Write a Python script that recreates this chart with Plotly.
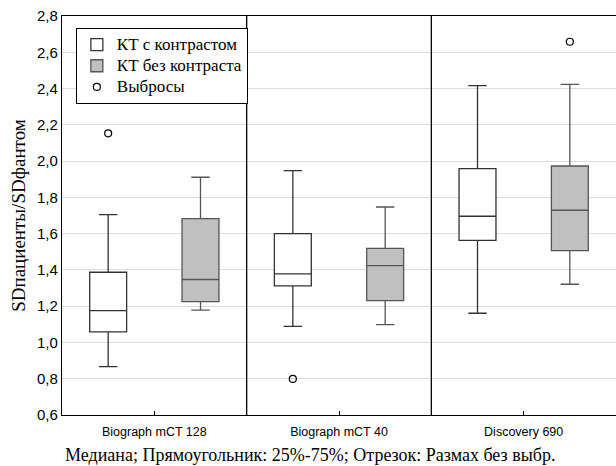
import plotly.graph_objects as go

categories = ["Biograph mCT 128", "Biograph mCT 40", "Discovery 690"]

# КТ с контрастом (white boxes)
c_low = [0.867, 1.089, 1.161]
c_q1 = [1.058, 1.312, 1.563]
c_med = [1.176, 1.378, 1.696]
c_q3 = [1.387, 1.600, 1.958]
c_high = [1.705, 1.947, 2.416]

# КТ без контраста (gray boxes)
n_low = [1.178, 1.098, 1.321]
n_q1 = [1.225, 1.231, 1.506]
n_med = [1.347, 1.424, 1.729]
n_q3 = [1.683, 1.519, 1.973]
n_high = [1.911, 1.747, 2.423]

# outliers
c_out_x = ["Biograph mCT 128", "Biograph mCT 40"]
c_out_y = [2.153, 0.799]
n_out_x = ["Discovery 690"]
n_out_y = [2.658]

serif = "Liberation Serif, Times New Roman, serif"
sans = "Liberation Sans, Arial, sans-serif"


def big(t):
    return "<span style='font-size:17px'>" + t + "</span>"


fig = go.Figure()
fig.add_trace(go.Box(
    name=big("КТ с контрастом"), x=categories, q1=c_q1, median=c_med, q3=c_q3,
    lowerfence=c_low, upperfence=c_high, fillcolor="white",
    line=dict(color="#333333", width=1.3), whiskerwidth=0.5,
    offsetgroup="c", boxpoints=False,
))
fig.add_trace(go.Box(
    name=big("КТ без контраста"), x=categories, q1=n_q1, median=n_med, q3=n_q3,
    lowerfence=n_low, upperfence=n_high, fillcolor="#c0c0c0",
    line=dict(color="#555555", width=1.3), whiskerwidth=0.5,
    offsetgroup="n", boxpoints=False,
))
fig.add_trace(go.Scatter(
    name=big("Выбросы"), x=c_out_x, y=c_out_y, mode="markers", offsetgroup="c",
    marker=dict(symbol="circle-open", size=7, color="black", line=dict(width=1.2)),
))
fig.add_trace(go.Scatter(
    name=big("Выбросы"), x=n_out_x, y=n_out_y, mode="markers", offsetgroup="n",
    marker=dict(symbol="circle-open", size=7, color="black", line=dict(width=1.2)),
    showlegend=False,
))

for xb in [0.5, 1.5]:
    fig.add_shape(type="line", xref="x", yref="paper", x0=xb, x1=xb, y0=0, y1=1,
                  line=dict(color="black", width=1.3), layer="above")

fig.update_layout(
    width=616, height=466,
    margin=dict(l=62, r=0, t=16, b=51),
    plot_bgcolor="white", paper_bgcolor="white",
    boxmode="group", boxgap=0, boxgroupgap=0.6,
    scattermode="group", scattergap=0,
    separators=", ",
    showlegend=True,
    legend=dict(x=0.025, y=0.97, xanchor="left", yanchor="top",
                bgcolor="white", bordercolor="black", borderwidth=1,
                font=dict(family=serif, size=14, color="black"),
                itemwidth=30, tracegroupgap=0),
    annotations=[dict(
        text="Медиана; Прямоугольник: 25%-75%; Отрезок: Размах без выбр.",
        xref="paper", yref="paper", x=0.447, y=0, yshift=-40,
        xanchor="center", yanchor="middle", showarrow=False,
        font=dict(family=serif, size=18, color="black"))],
)
fig.update_xaxes(
    type="category", categoryorder="array", categoryarray=categories,
    showline=True, linecolor="black", linewidth=1.3, mirror=True,
    ticks="inside", ticklen=4, tickcolor="black", ticklabelstandoff=5,
    showgrid=False, tickfont=dict(family=sans, size=12.5, color="black"),
)
fig.update_yaxes(
    range=[0.6, 2.8], dtick=0.2, tick0=0.6, tickformat=".1f",
    showline=True, linecolor="black", linewidth=1.3, mirror=False,
    showgrid=True, gridcolor="#dddddd", gridwidth=1, zeroline=False,
    ticks="", tickfont=dict(family=sans, size=15, color="black"),
    title=dict(text="SDпациенты/SDфантом", font=dict(family=serif, size=19, color="black"), standoff=6),
)

fig.write_html("out.html")
